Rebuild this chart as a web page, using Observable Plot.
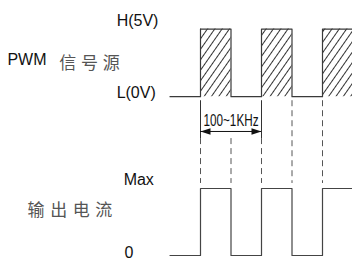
<!DOCTYPE html>
<html><head><meta charset="utf-8">
<script src="https://cdn.jsdelivr.net/npm/d3@7"></script>
<script src="https://cdn.jsdelivr.net/npm/@observablehq/plot@0.6"></script>
<style>body{margin:0;background:#fff}#c svg{display:block}</style>
</head><body><div id="c"></div>
<script>
// time axis in half-periods (edges at 0..4)
const times = [-1, 0, 1, 2, 3, 4, 5];
const pwmState = [0, 1, 0, 1, 0, 1, 1];
const currentState = [0, 1, 0, 1, 0, 1, 1];
// vertical levels of the two traces
const PWM_LOW = 2.37, PWM_HIGH = 3.38;
const CUR_LOW = 0, CUR_HIGH = 1;
// dimension annotation
const ARROW_LEVEL = 1.851;
const GUIDE_TOP = 2.31, ARROW_GAP_END = 1.745, GUIDE_BOTTOM = 1.075;
const dimEnds = [0, 2];
const guideTimes = [0, 1, 2, 3, 4];
const freqLabel = "100~1KHz";
// labels
const labelText = ["H(5V)", "L(0V)", "PWM", "信号源", "Max", "0", "输出电流"];
const labelT = [-2.75, -2.75, -6.33, -4.63, -2.52, -2.49, -5.67];
const labelV = [3.425, 2.358, 2.836, 2.79, 1.045, -0.03, 0.597];
const labelCJK = [false, false, false, true, false, false, true];

const pwm = times.map((t, i) => ({t, v: PWM_LOW + pwmState[i] * (PWM_HIGH - PWM_LOW)}));
const cur = times.map((t, i) => ({t, v: CUR_LOW + currentState[i] * (CUR_HIGH - CUR_LOW)}));
const pulses = [];
for (let i = 0; i < times.length - 1; i++) if (pwmState[i] === 1) pulses.push({t1: times[i], t2: times[i + 1]});
const labels = labelText.map((text, i) => ({text, t: labelT[i], v: labelV[i], cjk: labelCJK[i]}));
const solidGuides = dimEnds.map(t => ({t, y1: GUIDE_TOP, y2: ARROW_GAP_END}));
const dashedGuides = guideTimes.map(t => ({t, y1: (t <= 2 ? ARROW_GAP_END : GUIDE_TOP), y2: GUIDE_BOTTOM}));
const arrowEnds = [{t: dimEnds[0], v: ARROW_LEVEL, rot: 180}, {t: dimEnds[1], v: ARROW_LEVEL, rot: 0}];
const arrowHead = {draw(ctx) { ctx.moveTo(0, 0); ctx.lineTo(-10, -3.2); ctx.lineTo(-10, 3.2); ctx.closePath(); }};

const latin = "Liberation Sans, Arial, sans-serif";
const cjk = "Noto Sans CJK SC, sans-serif";

const svg = Plot.plot({
  width: 352, height: 261,
  marginTop: 0, marginRight: 0, marginBottom: 0, marginLeft: 0,
  x: {domain: [-1, 5], range: [169.5, 352.5], axis: null},
  y: {domain: [0, 1], range: [255, 188], axis: null},
  marks: [
    Plot.rect(pulses, {x1: "t1", x2: "t2", y1: PWM_LOW, y2: PWM_HIGH, fill: "#abcdef"}),
    Plot.line(pwm, {x: "t", y: "v", curve: "step-after", stroke: "#3a3a3a", strokeWidth: 1.2}),
    Plot.line(cur, {x: "t", y: "v", curve: "step-after", stroke: "#444", strokeWidth: 1.2}),
    Plot.ruleX(solidGuides, {x: "t", y1: "y1", y2: "y2", stroke: "#333", strokeWidth: 1}),
    Plot.ruleX(dashedGuides, {x: "t", y1: "y1", y2: "y2", stroke: "#555", strokeWidth: 1, strokeDasharray: "6,4"}),
    Plot.ruleY([ARROW_LEVEL], {x1: dimEnds[0], x2: dimEnds[1], stroke: "#111", strokeWidth: 1}),
    Plot.dot(arrowEnds, {x: "t", y: "v", rotate: "rot", symbol: arrowHead, r: 4, fill: "#111", stroke: "none"}),
    Plot.text([freqLabel], {x: (dimEnds[0] + dimEnds[1]) / 2, y: 1.94, text: d => d, lineAnchor: "bottom", fontSize: 16, fontFamily: latin, fill: "#111"}),
    Plot.text(labels.filter(d => !d.cjk), {x: "t", y: "v", text: "text", textAnchor: "start", lineAnchor: "bottom", fontSize: 16, fontFamily: latin, fill: "#111"}),
    Plot.text(labels.filter(d => d.cjk), {x: "t", y: "v", text: "text", textAnchor: "start", lineAnchor: "bottom", fontSize: 17, fontFamily: cjk, fill: "#555"})
  ]
});

const s = d3.select(svg);
const pat = s.insert("defs", ":first-child").append("pattern")
  .attr("id", "hatch").attr("patternUnits", "userSpaceOnUse")
  .attr("width", 6).attr("height", 6).attr("patternTransform", "rotate(35)");
pat.append("rect").attr("width", 6).attr("height", 6).attr("fill", "#fff");
pat.append("rect").attr("x", 0).attr("width", 1).attr("height", 6).attr("fill", "#333");
s.selectAll("[fill='#abcdef']").attr("fill", "url(#hatch)");
s.selectAll("text").each(function () {
  const t = this.textContent;
  if (t === freqLabel) { this.setAttribute("textLength", 55); this.setAttribute("lengthAdjust", "spacingAndGlyphs"); }
  if (t === "信号源") this.style.letterSpacing = "4.7px";
  if (t === "输出电流") this.style.letterSpacing = "5.6px";
});
document.getElementById("c").appendChild(svg);
</script>
</body></html>
